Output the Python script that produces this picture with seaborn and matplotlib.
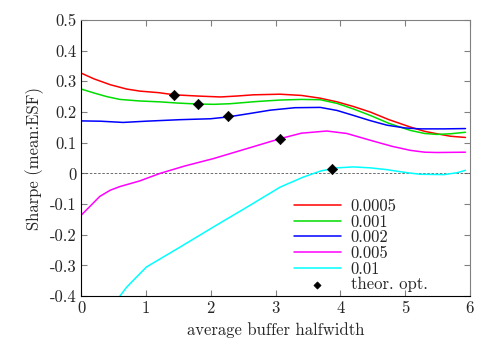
import pandas as pd
import matplotlib
matplotlib.use("Agg")
import matplotlib.pyplot as plt
import seaborn as sns

# values
x_0005 = [0, 0.2, 0.45, 0.7, 0.91, 1.2, 1.44, 1.8, 2.15, 2.4, 2.66, 3.07, 3.4, 3.69, 3.95, 4.2, 4.46, 4.75, 5.08, 5.3, 5.49, 5.7, 5.93]
s_0005 = [0.327, 0.308, 0.289, 0.275, 0.268, 0.263, 0.256, 0.252, 0.249, 0.252, 0.256, 0.258, 0.254, 0.245, 0.233, 0.218, 0.200, 0.175, 0.151, 0.137, 0.129, 0.121, 0.117]

x_001 = [0, 0.2, 0.4, 0.6, 0.9, 1.22, 1.5, 1.8, 2.05, 2.3, 2.7, 3.07, 3.4, 3.69, 3.95, 4.2, 4.46, 4.75, 5.08, 5.3, 5.49, 5.7, 5.93]
s_001 = [0.275, 0.262, 0.250, 0.241, 0.236, 0.233, 0.229, 0.226, 0.225, 0.227, 0.234, 0.239, 0.241, 0.240, 0.228, 0.210, 0.189, 0.163, 0.140, 0.130, 0.127, 0.129, 0.134]

x_002 = [0, 0.3, 0.65, 1.0, 1.53, 2.0, 2.27, 2.6, 2.92, 3.3, 3.69, 3.95, 4.2, 4.46, 4.72, 5.0, 5.23, 5.6, 5.93]
s_002 = [0.171, 0.170, 0.166, 0.170, 0.175, 0.178, 0.184, 0.195, 0.206, 0.214, 0.215, 0.205, 0.189, 0.172, 0.157, 0.148, 0.145, 0.145, 0.146]

x_005 = [0, 0.15, 0.29, 0.45, 0.6, 0.9, 1.22, 1.6, 2.04, 2.5, 3.07, 3.4, 3.79, 4.1, 4.46, 4.8, 5.08, 5.3, 5.49, 5.93]
s_005 = [-0.137, -0.105, -0.075, -0.055, -0.043, -0.025, 0.000, 0.024, 0.048, 0.077, 0.113, 0.131, 0.138, 0.130, 0.108, 0.088, 0.075, 0.069, 0.068, 0.069]

x_01 = [0.6, 0.7, 0.8, 1.01, 1.25, 1.53, 2.04, 2.56, 3.07, 3.43, 3.7, 3.95, 4.2, 4.46, 4.72, 5.0, 5.23, 5.6, 5.8, 5.93]
s_01 = [-0.400, -0.372, -0.350, -0.305, -0.275, -0.240, -0.175, -0.110, -0.045, -0.012, 0.008, 0.018, 0.021, 0.018, 0.012, 0.003, -0.003, -0.004, 0.002, 0.010]

opt_x = [1.43, 1.80, 2.27, 3.07, 3.87]
opt_y = [0.255, 0.226, 0.186, 0.113, 0.015]

labels = ["0.0005", "0.001", "0.002", "0.005", "0.01"]
colors = ["#ff0000", "#00dd00", "#0000ff", "#ff00ff", "#00ffff"]

series = [(x_0005, s_0005), (x_001, s_001), (x_002, s_002), (x_005, s_005), (x_01, s_01)]
df = pd.concat([pd.DataFrame({"x": xs, "y": ys, "rate": lab})
                for lab, (xs, ys) in zip(labels, series)], ignore_index=True)

sns.set_style("ticks")
plt.rcParams["font.family"] = ["cmr10", "DejaVu Serif"]
plt.rcParams["axes.unicode_minus"] = False
plt.rcParams["axes.formatter.use_mathtext"] = False

fig, ax = plt.subplots(figsize=(5, 3.5), dpi=100)
fig.subplots_adjust(left=0.162, right=0.94, top=0.943, bottom=0.154)

ax.axhline(0, color="#555555", lw=0.6, ls=(0, (3, 2)), zorder=1)

sns.lineplot(data=df, x="x", y="y", hue="rate", palette=dict(zip(labels, colors)),
             estimator=None, sort=False, lw=1.1, ax=ax)
sns.scatterplot(x=opt_x, y=opt_y, marker="D", color="black", s=28, zorder=5,
                edgecolor="black", label="theor. opt.", ax=ax)

ax.set_xlim(0, 6)
ax.set_ylim(-0.4, 0.5)
ax.set_xticks([0, 1, 2, 3, 4, 5, 6])
ax.set_yticks([-0.4, -0.3, -0.2, -0.1, 0, 0.1, 0.2, 0.3, 0.4, 0.5])
ax.set_yticklabels(["-0.4", "-0.3", "-0.2", "-0.1", "0", "0.1", "0.2", "0.3", "0.4", "0.5"])
ax.set_xlabel("average buffer halfwidth", fontsize=12)
ax.set_ylabel("Sharpe (mean:ESF)", fontsize=12)
ax.tick_params(direction="in", labelsize=12, length=4, top=True, right=True, color="#808080")
for side in ["top", "right"]:
    ax.spines[side].set_color("#808080")
for side in ["left", "bottom"]:
    ax.spines[side].set_color("black")

ax.legend(loc="lower left", bbox_to_anchor=(0.53, -0.01), frameon=False, fontsize=12,
          handlelength=2.8, labelspacing=0.02, borderaxespad=0.0, handletextpad=0.6,
          markerscale=0.7)

fig.savefig("out.png", dpi=100)
